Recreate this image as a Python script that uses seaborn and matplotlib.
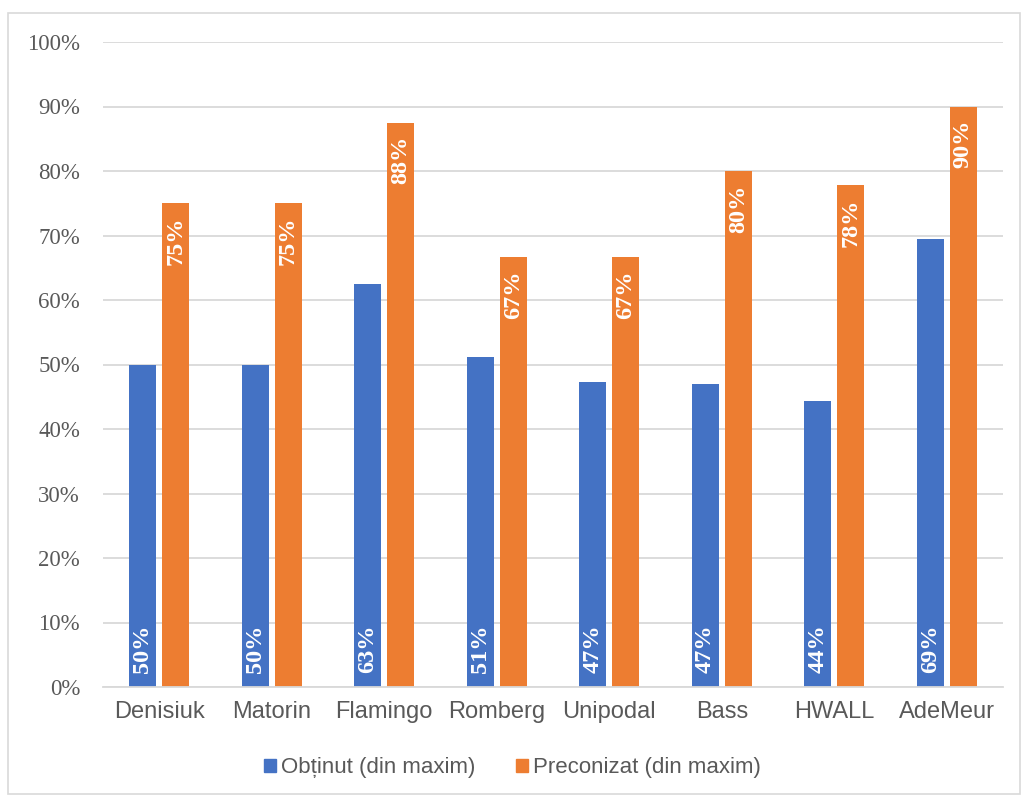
import matplotlib
matplotlib.use("Agg")
import matplotlib.pyplot as plt
import seaborn as sns
import pandas as pd
import math
from matplotlib.patches import Rectangle

categories = ["Denisiuk", "Matorin", "Flamingo", "Romberg", "Unipodal", "Bass", "HWALL", "AdeMeur"]
obtinut = [50.0, 50.0, 62.5, 51.1, 47.3, 47.0, 44.4, 69.4]
preconizat = [75.0, 75.0, 87.5, 66.7, 66.7, 80.0, 77.8, 90.0]
series = ["Obținut (din maxim)", "Preconizat (din maxim)"]
yticks = [0, 10, 20, 30, 40, 50, 60, 70, 80, 90, 100]

df = pd.DataFrame({
    "cat": categories * 2,
    "val": obtinut + preconizat,
    "ser": [series[0]] * len(categories) + [series[1]] * len(categories),
})

sns.set_theme(style="white")
fig = plt.figure(figsize=(10.25, 7.96), dpi=100)
ax = fig.add_axes([103/1025, 1 - 687/796, 900/1025, (687-42)/796])

palette = {series[0]: "#4472C4", series[1]: "#ED7D31"}
sns.barplot(data=df, x="cat", y="val", hue="ser", palette=palette, ax=ax,
            width=0.587, gap=0.18, saturation=1, legend=False, errorbar=None,
            linewidth=0)

ax.set_ylim(0, 100)
ax.set_xlim(-0.5, len(categories) - 0.5)
ax.set_yticks(yticks)
ax.set_yticklabels([f"{v}%" for v in yticks], fontfamily="Liberation Serif", fontsize=16.5, color="#595959")
ax.set_xticks(range(len(categories)))
ax.set_xticklabels(categories, fontfamily="Liberation Sans", fontsize=17, color="#595959")
ax.set_xlabel("")
ax.set_ylabel("")
ax.yaxis.grid(True, color="#D9D9D9", linewidth=1.3)
ax.set_axisbelow(True)
for s in ["top", "right", "left"]:
    ax.spines[s].set_visible(False)
ax.spines["bottom"].set_color("#D9D9D9")
ax.spines["bottom"].set_linewidth(1.3)
ax.tick_params(axis="x", length=0, pad=10)
ax.tick_params(axis="y", length=0, pad=16.5)

def pct(v):
    return f"{int(math.floor(v + 0.5))}%"

# data labels
for ci, cont in enumerate(ax.containers):
    for bar in cont:
        h = bar.get_height()
        xc = bar.get_x() + bar.get_width() / 2
        if ci == 0:
            ax.text(xc, 2.2, pct(h), rotation=90, ha="center", va="bottom", color="white",
                    fontfamily="Liberation Serif", fontweight="bold", fontsize=17.5)
        else:
            ax.text(xc, h - 2.1, pct(h), rotation=90, ha="center", va="top", color="white",
                    fontfamily="Liberation Serif", fontweight="bold", fontsize=17.5)

# legend
handles = [Rectangle((0, 0), 1, 1, color=palette[s]) for s in series]
fig.legend(handles, series, loc="center", bbox_to_anchor=(0.5, 1 - 768/796), ncol=2,
           frameon=False, prop={"family": "Liberation Sans", "size": 16},
           labelcolor="#595959", handlelength=0.55, handleheight=0.55, handletextpad=0.22,
           columnspacing=1.8)

# outer border
fig.patches.append(Rectangle((8/1025, 2/796), 1012/1025, 781/796, transform=fig.transFigure,
                             fill=False, edgecolor="#D9D9D9", linewidth=1.2))

fig.savefig("out.png", dpi=100, facecolor="white")
